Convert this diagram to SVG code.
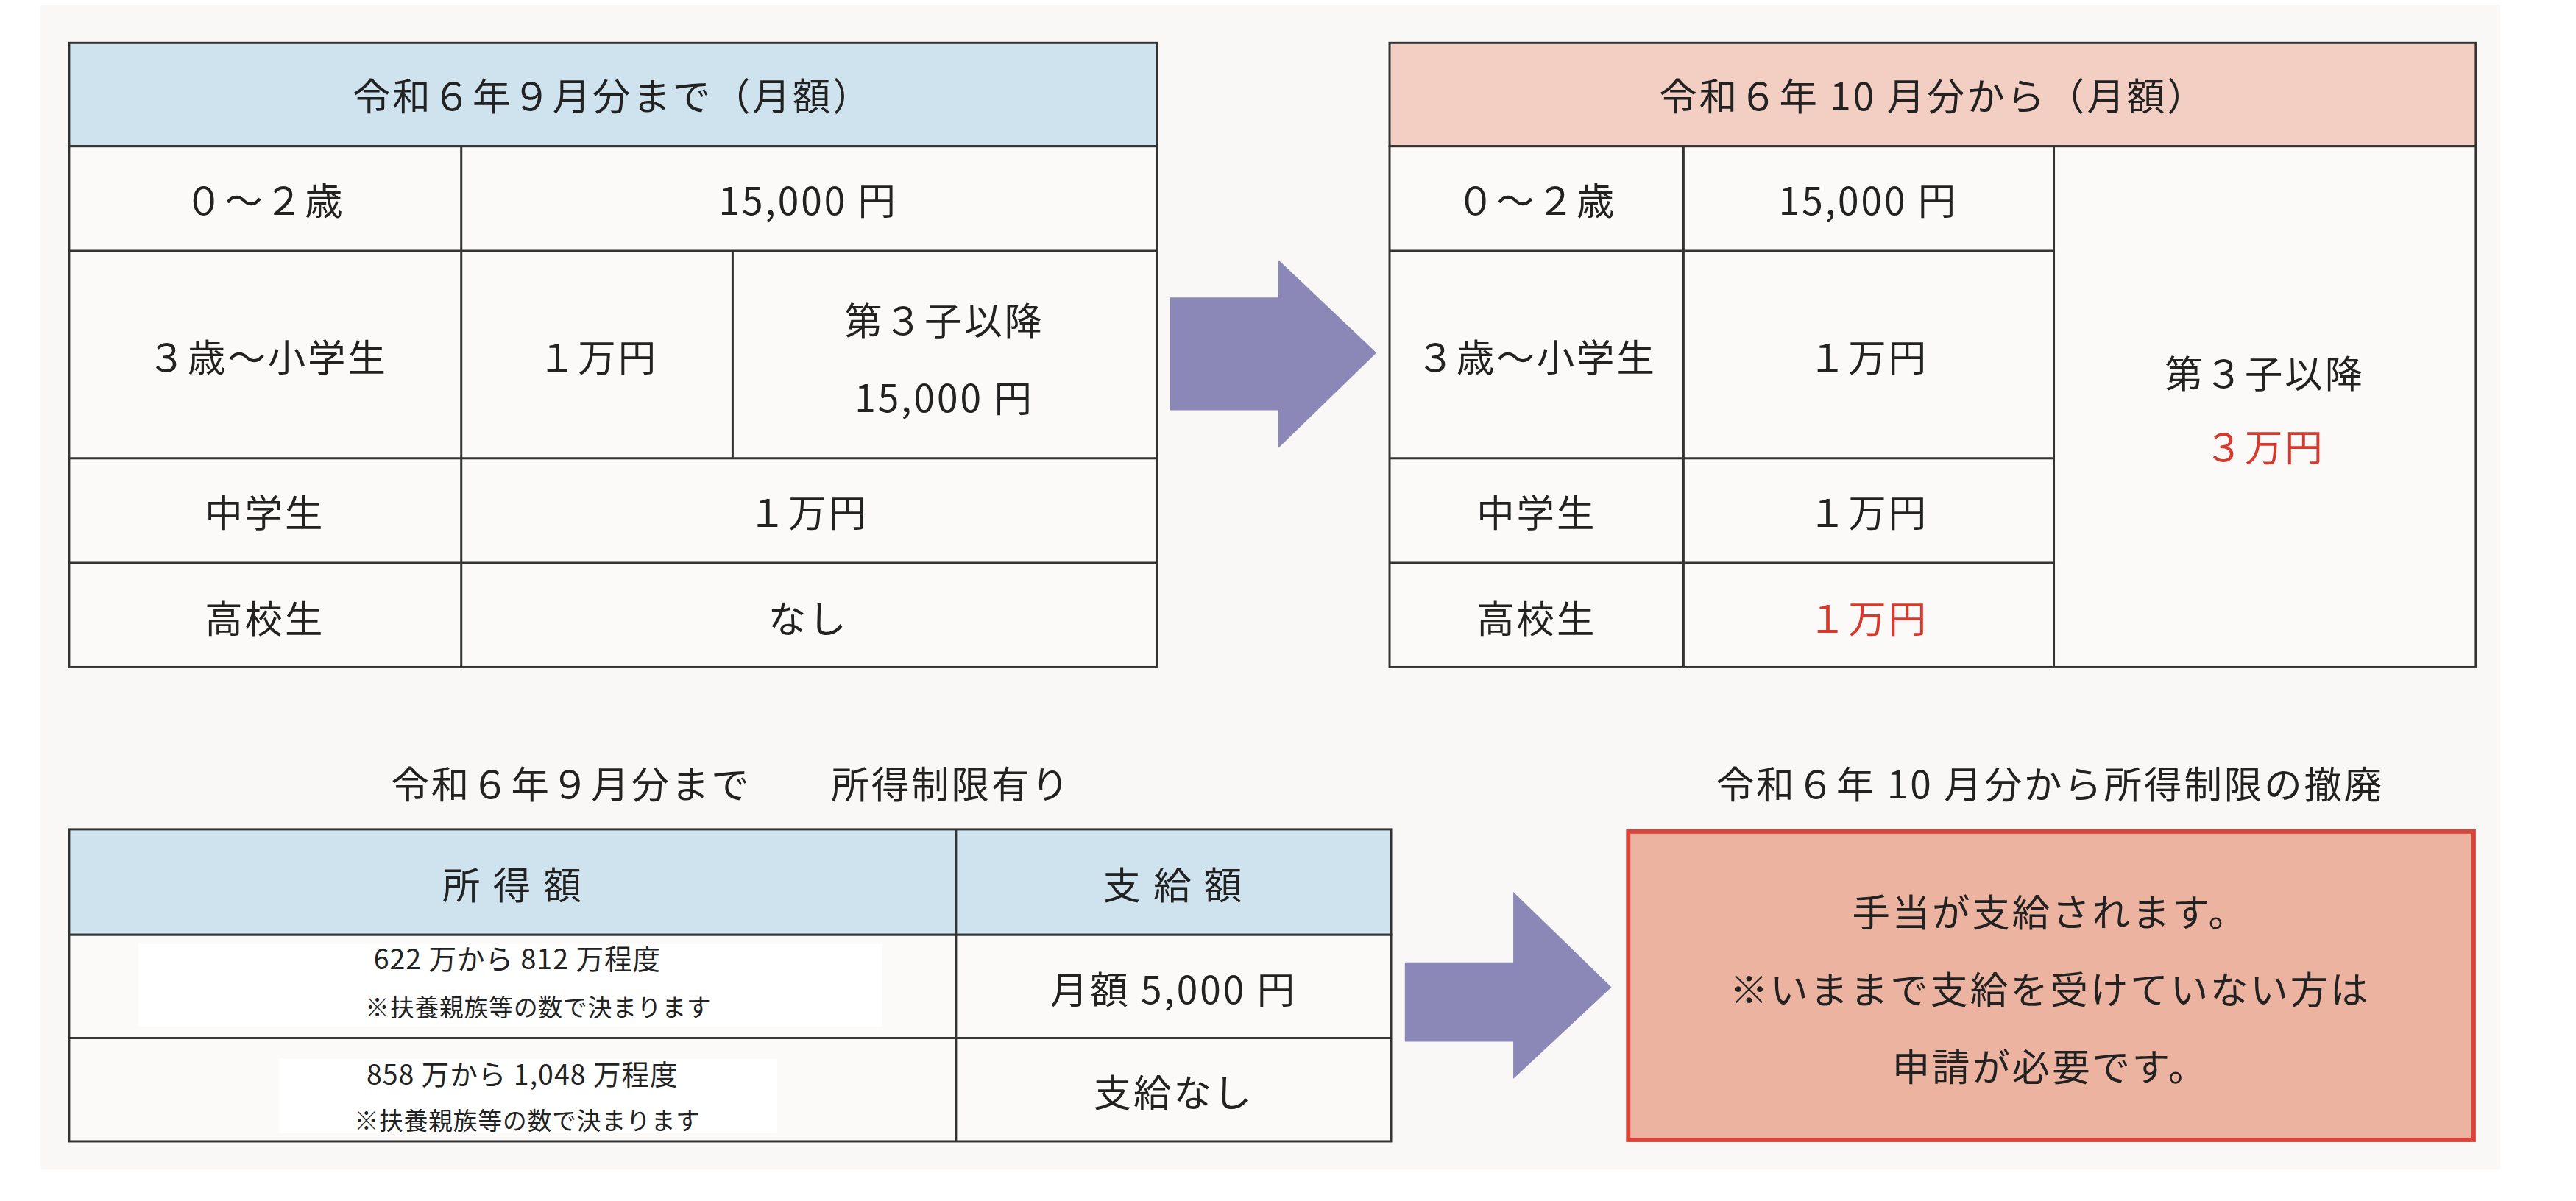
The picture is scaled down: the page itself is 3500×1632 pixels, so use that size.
<svg xmlns="http://www.w3.org/2000/svg" width="3500" height="1632" viewBox="0 0 3500 1632">
<style>
text{font-family:"Noto Sans CJK JP","Noto Sans",sans-serif;fill:#222;text-anchor:middle;dominant-baseline:central;font-size:52px;letter-spacing:3px}
.c{fill:#fbfaf8;stroke:#333;stroke-width:3}
.r{fill:#d63a2e}
.s{font-size:38px;letter-spacing:1px}
.n{font-size:33px;letter-spacing:1px}
.arr{fill:#8b88b8}
</style>
<rect width="3500" height="1632" fill="#fff"/>
<g transform="scale(0.9885)">
<rect x="56" y="7" width="3381" height="1601" fill="#faf8f6"/>
<g id="table-before">
<rect class="c" x="95" y="59" width="1495" height="142" style="fill:#cfe3ee"/>
<rect class="c" x="95" y="201" width="1495" height="716"/>
<path d="M95 345H1590M95 630H1590M95 774H1590M634 201V917M1007 345V630" stroke="#333" stroke-width="3" fill="none"/>
<text x="842" y="129">令和６年９月分まで（月額）</text>
<text x="364" y="273">０～２歳</text><text x="1111" y="273">15,000 円</text>
<text x="368" y="488">３歳～小学生</text><text x="822" y="488">１万円</text>
<text x="1298" y="438">第３子以降</text><text x="1298" y="544">15,000 円</text>
<text x="364" y="702">中学生</text><text x="1111" y="702">１万円</text>
<text x="364" y="847">高校生</text><text x="1111" y="847">なし</text>
</g>
<g id="table-after">
<rect class="c" x="1910" y="59" width="1493" height="142" style="fill:#f2cfc2"/>
<rect class="c" x="1910" y="201" width="1493" height="716"/>
<path d="M1910 345H2823M1910 630H2823M1910 774H2823M2314 201V917M2823 201V917" stroke="#333" stroke-width="3" fill="none"/>
<text x="2657" y="129">令和６年 10 月分から（月額）</text>
<text x="2112" y="273">０～２歳</text><text x="2568" y="273">15,000 円</text>
<text x="2112" y="488">３歳～小学生</text><text x="2568" y="488">１万円</text>
<text x="2112" y="702">中学生</text><text x="2568" y="702">１万円</text>
<text x="2112" y="847">高校生</text><text class="r" x="2568" y="847">１万円</text>
<text x="3113" y="510">第３子以降</text><text class="r" x="3113" y="612">３万円</text>
</g>
<g id="income-before">
<text x="1005" y="1075">令和６年９月分まで　　所得制限有り</text>
<rect class="c" x="95" y="1140" width="1817" height="145" style="fill:#cfe3ee"/>
<rect class="c" x="95" y="1285" width="1817" height="284"/>
<path d="M95 1427H1912M1314 1140V1569" stroke="#333" stroke-width="3" fill="none"/>
<text x="705" y="1213">所 得 額</text><text x="1613" y="1213">支 給 額</text>
<rect x="190" y="1298" width="1023" height="113" fill="#fff"/>
<text class="s" x="711" y="1316">622 万から 812 万程度</text>
<text class="n" x="740" y="1382">※扶養親族等の数で決まります</text>
<text x="1613" y="1357">月額 5,000 円</text>
<rect x="384" y="1456" width="684" height="102" fill="#fff"/>
<text class="s" x="718" y="1474">858 万から 1,048 万程度</text>
<text class="n" x="725" y="1538">※扶養親族等の数で決まります</text>
<text x="1613" y="1499">支給なし</text>
</g>
<g id="income-after">
<text x="2818" y="1075">令和６年 10 月分から所得制限の撤廃</text>
<rect x="2238" y="1143" width="1162" height="424" fill="#ecb4a0" stroke="#d9453a" stroke-width="6"/>
<text x="2818" y="1251">手当が支給されます。</text>
<text x="2818" y="1357">※いままで支給を受けていない方は</text>
<text x="2818" y="1463">申請が必要です。</text>
</g>
<g id="connectors">
<polygon class="arr" points="1608,409 1757,409 1757,357 1892,485 1757,616 1757,564 1608,564"/>
<polygon class="arr" points="1931,1323 2080,1323 2080,1226 2215,1357 2080,1483 2080,1432 1931,1432"/>
</g>
</g>
</svg>
